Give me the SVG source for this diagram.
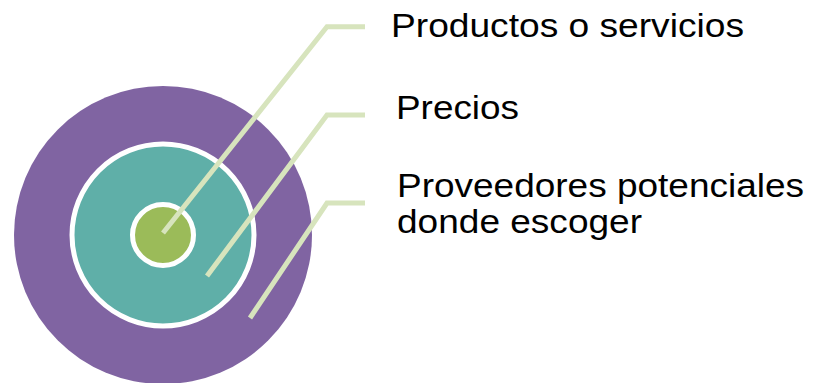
<svg xmlns="http://www.w3.org/2000/svg" width="814" height="383" viewBox="0 0 814 383">
<style>
.lbl{font-family:"Liberation Sans",Arial,sans-serif;font-size:34px;fill:#000}
.con{fill:none;stroke:#D7E4BD;stroke-width:5;stroke-linejoin:miter}
</style>
<rect width="814" height="383" fill="#fff"/>
<g id="outer"><circle cx="163" cy="235" r="149" fill="#8064A2"/></g>
<g id="middle"><circle cx="163" cy="235" r="91" fill="#5FAFA8" stroke="#fff" stroke-width="5"/></g>
<g id="inner"><circle cx="163" cy="235" r="30.5" fill="#9BBB59" stroke="#fff" stroke-width="5"/></g>
<g id="connectors">
<polyline class="con" points="163,233 327,26.8 365,26.8"/>
<polyline class="con" points="207,276 327,115 365,115"/>
<polyline class="con" points="250,318 327,203 365,203"/>
</g>
<g id="label1"><text class="lbl" x="391" y="36.7" textLength="353" lengthAdjust="spacingAndGlyphs">Productos o servicios</text></g>
<g id="label2"><text class="lbl" x="396" y="119.3" textLength="123" lengthAdjust="spacingAndGlyphs">Precios</text></g>
<g id="label3"><text class="lbl" x="397" y="197.3" textLength="407" lengthAdjust="spacingAndGlyphs">Proveedores potenciales</text><text class="lbl" x="397" y="232.7" textLength="245" lengthAdjust="spacingAndGlyphs">donde escoger</text></g>
</svg>
